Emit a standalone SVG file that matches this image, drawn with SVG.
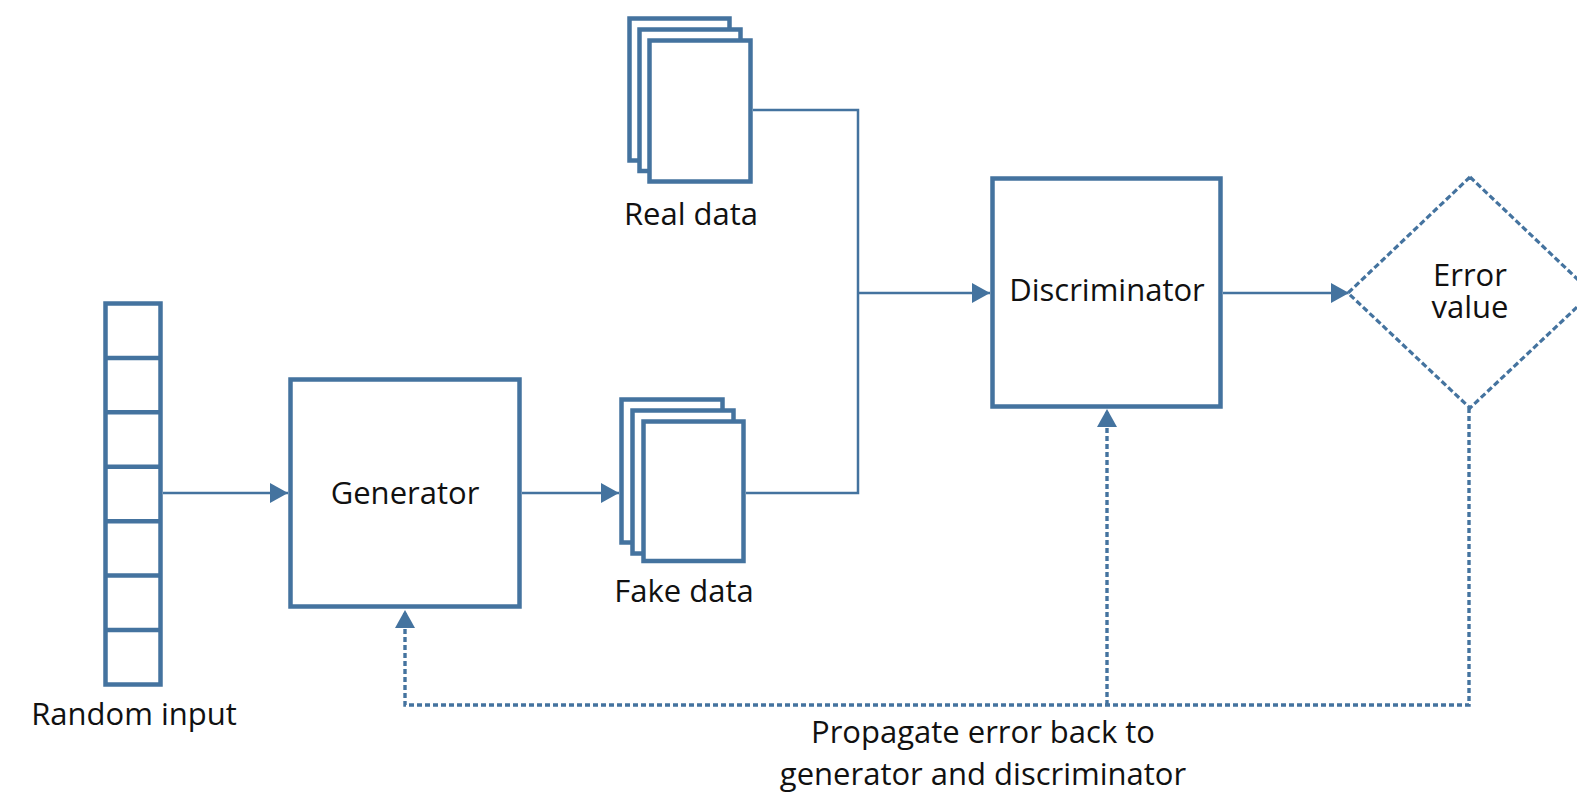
<svg xmlns="http://www.w3.org/2000/svg" width="1577" height="805" viewBox="0 0 1577 805">
<style>
.node{fill:#fff;stroke:#44739f;stroke-width:4.5}
.conn{fill:none;stroke:#44739f;stroke-width:2.5}
.dash{fill:none;stroke:#44739f;stroke-width:3.4;stroke-dasharray:5 3}
.ddash{fill:#fff;stroke:#44739f;stroke-width:3.2;stroke-dasharray:6 3}
text{font-family:"Open Sans","Liberation Sans",sans-serif;font-size:31px;fill:#111;text-anchor:middle}
</style>
<defs>
<marker id="arr" markerUnits="userSpaceOnUse" markerWidth="18" markerHeight="20" refX="18" refY="10" orient="auto">
<path d="M0,0 L18,10 L0,20 z" fill="#44739f"/>
</marker>
</defs>
<g id="connectors">
<path class="conn" d="M163,493 H288" marker-end="url(#arr)"/>
<path class="conn" d="M522,493 H619" marker-end="url(#arr)"/>
<path class="conn" d="M753,110 H858 V493 H746"/>
<path class="conn" d="M858,293 H990" marker-end="url(#arr)"/>
<path class="conn" d="M1223,293 H1349" marker-end="url(#arr)"/>
<path class="dash" d="M1469,408 V705 H405 V610" marker-end="url(#arr)"/>
<path class="dash" d="M1107,705 V409" marker-end="url(#arr)"/>
</g>
<g id="random-input">
<rect class="node" x="105.5" y="303.5" width="55" height="381"/>
<path class="node" d="M105.5,357.9 H160.5 M105.5,412.3 H160.5 M105.5,466.8 H160.5 M105.5,521.2 H160.5 M105.5,575.6 H160.5 M105.5,630 H160.5"/>
<text x="134" y="725">Random input</text>
</g>
<g id="generator">
<rect class="node" x="290.5" y="379.5" width="229" height="227"/>
<text x="405" y="504">Generator</text>
</g>
<g id="real-data">
<rect class="node" x="629.5" y="18.5" width="100" height="142"/>
<rect class="node" x="639.5" y="29.5" width="101" height="141.5"/>
<rect class="node" x="649.5" y="40.5" width="101" height="141"/>
<text x="691" y="225">Real data</text>
</g>
<g id="fake-data">
<rect class="node" x="621.5" y="399.5" width="101" height="143"/>
<rect class="node" x="632.5" y="410.5" width="101" height="143"/>
<rect class="node" x="643.5" y="421.5" width="100" height="139.5"/>
<text x="684" y="602">Fake data</text>
</g>
<g id="discriminator">
<rect class="node" x="992.5" y="178.5" width="228" height="228"/>
<text x="1107" y="301">Discriminator</text>
</g>
<g id="error-value">
<path class="ddash" d="M1470,177 L1592,293 L1470,408 L1348,293 z"/>
<text x="1470" y="286"><tspan x="1470">Error</tspan><tspan x="1470" dy="32">value</tspan></text>
</g>
<g id="label">
<text x="983" y="743"><tspan x="983">Propagate error back to</tspan><tspan x="983" dy="42">generator and discriminator</tspan></text>
</g>
</svg>
